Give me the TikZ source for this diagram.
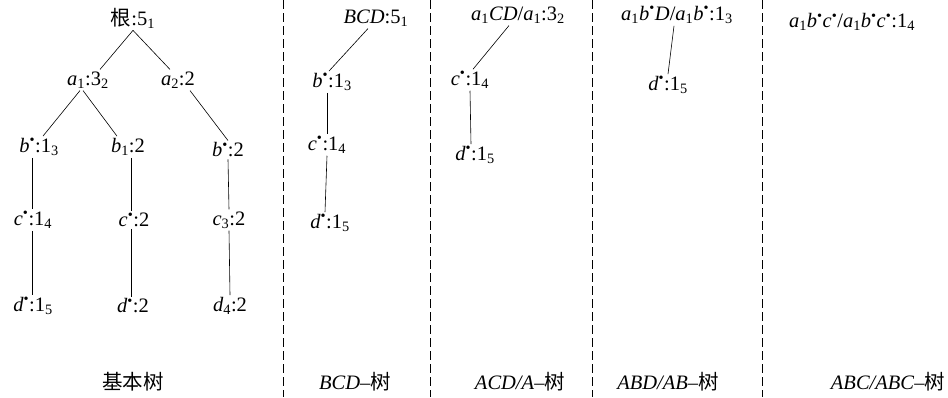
\documentclass[tikz,border=0pt]{standalone}
\usepackage{fontspec}
\setmainfont{Liberation Serif}
\newfontfamily\cjk{Noto Sans CJK SC}
\usetikzlibrary{positioning}

\newcommand\lsub[1]{\textsubscript{#1}}
\newcommand\bul{\textsuperscript{\textbullet}}

\begin{document}
\begin{tikzpicture}[
        x=1pt, y=-1pt,
        every node/.style = {font=\fontsize{20.5}{22}\selectfont, inner sep=2pt},
        link/.style = {line width=0.6pt},
        sep/.style = {line width=0.6pt, dash pattern=on 9pt off 4pt}
    ]
    \useasboundingbox (0,0) rectangle (948,397);

    % separators between the trees
    \foreach \x in {283,430,592,762}
        \draw[sep] (\x,0) -- (\x,397);

    % basic tree
    \node (root) at (133,18) {{\cjk 根}:5\lsub{1}};
    \node (a1) at (88,80) {\textit{a}\lsub{1}:3\lsub{2}};
    \node (a2) at (178,80) {\textit{a}\lsub{2}:2};
    \node (b3) at (39,147) {\textit{b}\bul:1\lsub{3}};
    \node (b1) at (128,147) {\textit{b}\lsub{1}:2};
    \node (b2) at (228,150) {\textit{b}\bul:2};
    \node (c4) at (33,220) {\textit{c}\bul:1\lsub{4}};
    \node (c2) at (134,220) {\textit{c}\bul:2};
    \node (c3) at (229,220) {\textit{c}\lsub{3}:2};
    \node (d5) at (33,306) {\textit{d}\bul:1\lsub{5}};
    \node (d2) at (133,306) {\textit{d}\bul:2};
    \node (d4) at (230,306) {\textit{d}\lsub{4}:2};
    \node (base) at (133,382) {\cjk 基本树};

    \draw[link] (root.south) -- ([xshift=12pt]a1.north);
    \draw[link] (root.south) -- ([xshift=-8pt]a2.north);
    \draw[link] ([xshift=-8pt]a1.south) -- ([xshift=4pt]b3.north);
    \draw[link] ([xshift=-5pt]a1.south) -- ([xshift=-11pt]b1.north);
    \draw[link] ([xshift=12pt]a2.south) -- (b2.north);
    \draw[link] ([xshift=-7pt]b3.south) -- ([xshift=-1pt]c4.north);
    \draw[link] ([xshift=3pt]b1.south) -- ([xshift=-3pt]c2.north);
    \draw[link] (b2.south) -- (c3.north);
    \draw[link] ([xshift=-1pt]c4.south) -- ([xshift=-1pt]d5.north);
    \draw[link] ([xshift=-3pt]c2.south) -- ([xshift=-2pt]d2.north);
    \draw[link] (c3.south) -- (d4.north);

    % BCD tree
    \node (bcd) at (376,18) {\textit{BCD}:5\lsub{1}};
    \node (bcdb) at (332,82) {\textit{b}\bul:1\lsub{3}};
    \node (bcdc) at (327,145) {\textit{c}\bul:1\lsub{4}};
    \node (bcdd) at (330,223) {\textit{d}\bul:1\lsub{5}};
    \node (bcdt) at (355,382) {\textit{BCD}--{\cjk 树}};

    \draw[link] ([xshift=-8pt]bcd.south) -- ([xshift=-3pt]bcdb.north);
    \draw[link] ([xshift=-5pt]bcdb.south) -- (bcdc.north);
    \draw[link] (bcdc.south) -- ([xshift=-5pt]bcdd.north);

    % ACD/A tree
    \node (acd) at (518,15) {\textit{a}\lsub{1}\textit{CD}/\textit{a}\lsub{1}:3\lsub{2}};
    \node (acdc) at (470,80) {\textit{c}\bul:1\lsub{4}};
    \node (acdd) at (475,155) {\textit{d}\bul:1\lsub{5}};
    \node (acdt) at (520,382) {\textit{ACD/A}--{\cjk 树}};

    \draw[link] ([xshift=-9pt]acd.south) -- ([xshift=3pt]acdc.north);
    \draw[link] (acdc.south) -- ([xshift=-4pt]acdd.north);

    % ABD/AB tree
    \node (abd) at (677,15) {\textit{a}\lsub{1}\textit{b}\bul\textit{D}/\textit{a}\lsub{1}\textit{b}\bul:1\lsub{3}};
    \node (abdd) at (668,85) {\textit{d}\bul:1\lsub{5}};
    \node (abdt) at (668,382) {\textit{ABD/AB}--{\cjk 树}};

    \draw[link] ([xshift=-3pt]abd.south) -- (abdd.north);

    % ABC/ABC tree
    \node (abc) at (852,22) {\textit{a}\lsub{1}\textit{b}\bul\textit{c}\bul/\textit{a}\lsub{1}\textit{b}\bul\textit{c}\bul:1\lsub{4}};
    \node (abct) at (888,382) {\textit{ABC/ABC}--{\cjk 树}};

    \end{tikzpicture}
\end{document}
